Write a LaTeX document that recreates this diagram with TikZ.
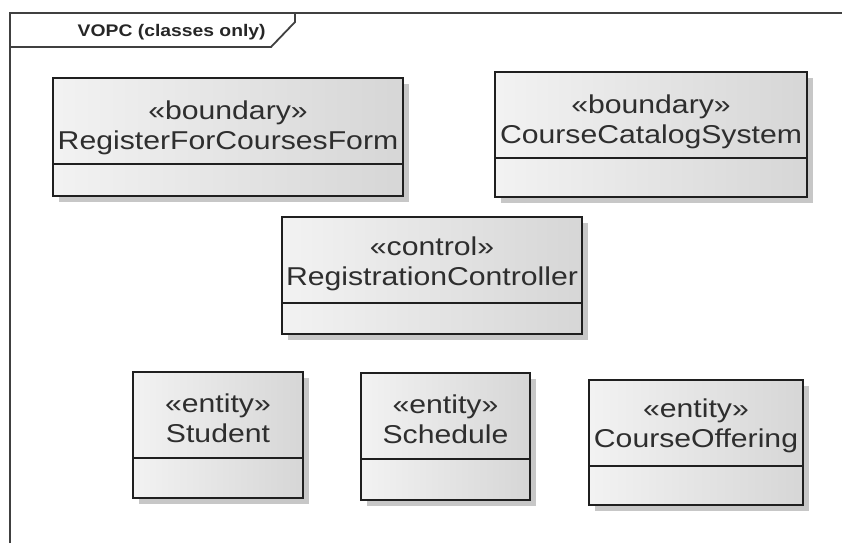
\documentclass[tikz,border=0pt]{standalone}
\usepackage{fontspec}
\newfontfamily\umlfont[FakeStretch=1.17]{Liberation Sans}
\newfontfamily\umltitlefont[FakeStretch=1.15]{Liberation Sans Bold}
\usetikzlibrary{shadows}

% One UML class: name, left, top, right, bottom, separator y, stereotype, class name, name baseline
\newcommand\umlclass[9]{%
  \node[classbox, minimum width={#4-#2}, minimum height={#5-#3}]
    (#1) at ({(#2+#4)/2},{(#3+#5)/2}) {};
  \draw[sepline] (#1.west |- 0,#6) -- (#1.east |- 0,#6);
  \node[umltext] (#1-st) at ({(#2+#4)/2},{#9-30}) {«#7»};
  \node[umltext] (#1-nm) at ({(#2+#4)/2},#9) {#8};
}

\begin{document}
\begin{tikzpicture}[x=1pt,y=-1pt,
  framepen/.style={draw=black!75, line width=1.8pt},
  classbox/.style={draw=black!88, line width=1.6pt, inner sep=0pt, outer sep=0pt,
    left color=white!95!black, middle color=white!93!black, right color=white!84!black,
    drop shadow={shadow xshift=6pt, shadow yshift=-6pt, fill=black!22, opacity=1}},
  sepline/.style={draw=black!88, line width=1.6pt},
  umltext/.style={font=\umlfont\fontsize{25.8}{30}\selectfont, text=black!82, anchor=base, inner sep=0pt},
  frametitle/.style={font=\umltitlefont\fontsize{16.8}{20}\selectfont, text=black!85, anchor=base, inner sep=0pt}]

\useasboundingbox (0,0) rectangle (842,543);

% diagram frame with its name tab
\draw[framepen] (10,543) -- (10,13) -- (842,13);
\draw[framepen] (295,13) -- (295,22) -- (271,47) -- (10,47);
\node[frametitle] (vopc) at (171.7,36.5) {VOPC (classes only)};

% classes
\umlclass{rfcf}{53}{78}{403}{196}{164}{boundary}{RegisterForCoursesForm}{149.5}
\umlclass{ccs}{495}{72}{807}{197}{158}{boundary}{CourseCatalogSystem}{143.5}
\umlclass{rc}{282}{217}{582}{334}{303}{control}{RegistrationController}{285.5}
\umlclass{stu}{133}{372}{303}{498}{458}{entity}{Student}{442}
\umlclass{sch}{361}{373}{530}{500}{459}{entity}{Schedule}{443}
\umlclass{co}{589}{380}{803}{505}{466}{entity}{CourseOffering}{447.5}

\end{tikzpicture}
\end{document}
